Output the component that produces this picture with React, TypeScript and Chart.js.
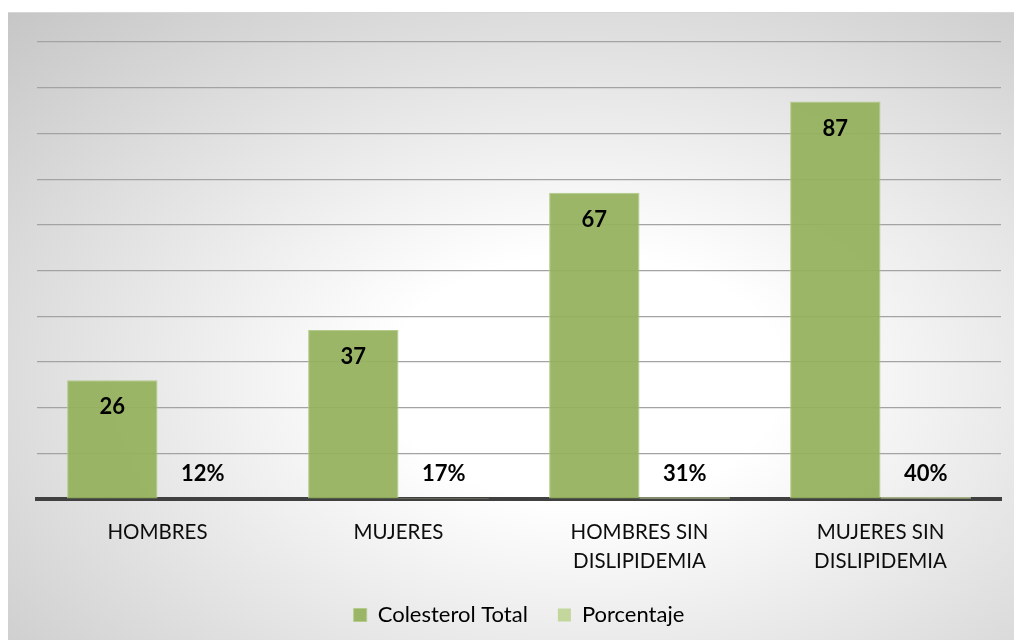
import React, { useEffect, useRef } from "react";
import { Chart, registerables } from "chart.js";

Chart.register(...registerables);

const categories: string[][] = [
  ["HOMBRES"],
  ["MUJERES"],
  ["HOMBRES SIN", "DISLIPIDEMIA"],
  ["MUJERES SIN", "DISLIPIDEMIA"],
];
const colesterolTotal = [26, 37, 67, 87];
const porcentaje = [0.12, 0.17, 0.31, 0.4];
const seriesNames = ["Colesterol Total", "Porcentaje"];
const yMin = 0;
const yMax = 100;
const yStep = 10;

const FONT = "Lato";

const valueLabels = {
  id: "valueLabels",
  afterDatasetsDraw(chart: any) {
    const ctx = chart.ctx;
    const yScale = chart.scales.y;
    ctx.save();
    ctx.font = `bold 22px ${FONT}`;
    ctx.fillStyle = "#000";
    ctx.textAlign = "center";
    ctx.textBaseline = "middle";
    chart.getDatasetMeta(0).data.forEach((bar: any, i: number) => {
      ctx.fillText(String(colesterolTotal[i]), bar.x, bar.y + 27);
    });
    chart.getDatasetMeta(1).data.forEach((bar: any, i: number) => {
      ctx.fillText(
        Math.round(porcentaje[i] * 100) + "%",
        bar.x,
        yScale.getPixelForValue(0) - 25
      );
    });
    ctx.restore();
  },
};

export default function App() {
  const ref = useRef<HTMLCanvasElement | null>(null);
  useEffect(() => {
    if (!ref.current) return;
    const chart = new Chart(ref.current, {
      type: "bar",
      data: {
        labels: categories,
        datasets: [
          {
            label: seriesNames[0],
            data: colesterolTotal,
            backgroundColor: "rgba(146,176,90,0.93)",
            borderColor: "#b4cb8c",
            borderWidth: 1,
            categoryPercentage: 0.75,
            barPercentage: 1,
          },
          {
            label: seriesNames[1],
            data: porcentaje,
            backgroundColor: "#c3d69b",
            borderWidth: 0,
            categoryPercentage: 0.75,
            barPercentage: 1,
          },
        ],
      },
      options: {
        responsive: true,
        maintainAspectRatio: false,
        animation: false,
        layout: { padding: { left: 29, right: 20, top: 29, bottom: 7 } },
        plugins: {
          tooltip: { enabled: false },
          legend: {
            position: "bottom",
            labels: {
              boxWidth: 13,
              boxHeight: 13,
              padding: 30,
              color: "#000",
              font: { family: FONT, size: 22 },
            },
          },
        },
        scales: {
          x: {
            grid: { display: false, drawTicks: false },
            border: { display: true, color: "#404040", width: 4 },
            ticks: {
              color: "#0d0d0d",
              padding: 19,
              font: { family: FONT, size: 20.5, lineHeight: 1.41 },
              maxRotation: 0,
            },
            afterFit: (scale: any) => {
              scale.height = 75;
            },
          },
          y: {
            min: yMin,
            max: yMax,
            ticks: { display: false, stepSize: yStep },
            grid: { color: "#a3a3a3", lineWidth: 1.2, drawTicks: false },
            border: { display: false },
          },
        },
      },
      plugins: [valueLabels],
    });
    return () => chart.destroy();
  }, []);

  return (
    <div
      style={{
        position: "relative",
        left: -1,
        top: 4,
        width: 1015,
        height: 632,
        boxSizing: "border-box",
        border: "1px solid #d6d6d6",
        background:
          "radial-gradient(ellipse at 57% 58%, #ffffff 0%, #ffffff 24%, #c6c6c6 100%)",
      }}
    >
      <canvas ref={ref} />
    </div>
  );
}
